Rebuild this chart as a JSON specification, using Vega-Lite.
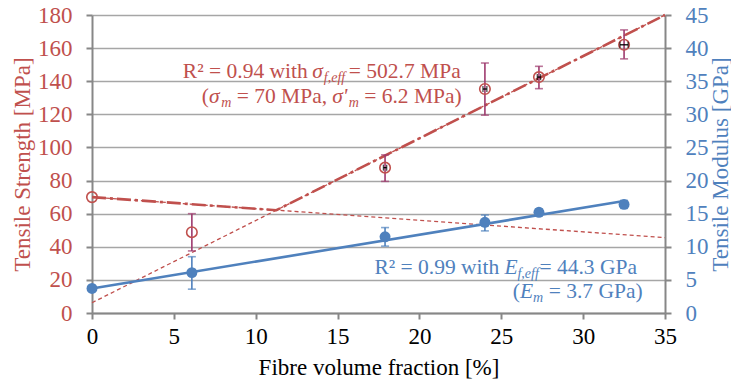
{
  "$schema": "https://vega.github.io/schema/vega-lite/v6.json",
  "width": 573,
  "height": 298,
  "autosize": {"type": "none"},
  "padding": {"left": 92, "top": 15, "right": 66, "bottom": 70},
  "background": "white",
  "config": {
    "view": {"stroke": null},
    "font": "Liberation Serif",
    "text": {"font": "Liberation Serif"},
    "axis": {
      "labelFont": "Liberation Serif",
      "labelFontSize": 23,
      "titleFont": "Liberation Serif",
      "titleFontSize": 23,
      "titleFontWeight": "normal",
      "labelOverlap": false,
      "labelFlush": false,
      "labelBound": false,
      "domainColor": "#878787",
      "domainWidth": 2,
      "tickColor": "#878787",
      "tickWidth": 2,
      "tickSize": 6,
      "gridColor": "#a6a6a6",
      "gridWidth": 1.5
    }
  },
  "datasets": {
    "strength": [
      {"V": 0, "s": 70},
      {"V": 6.1, "s": 48.8, "sLo": 37.5, "sHi": 60},
      {"V": 17.9, "s": 87.8, "sLo": 79.5, "sHi": 95.5, "xLo": 17.8, "xHi": 18.0},
      {"V": 24.0, "s": 135.3, "sLo": 119.5, "sHi": 151, "xLo": 23.88, "xHi": 24.12},
      {"V": 27.3, "s": 142.5, "sLo": 135.5, "sHi": 149, "xLo": 27.2, "xHi": 27.4},
      {"V": 32.5, "s": 162, "sLo": 153.5, "sHi": 171, "xLo": 32.25, "xHi": 32.75}
    ],
    "modulus": [
      {"V": 0, "E": 3.7},
      {"V": 6.1, "E": 6.1, "ELo": 3.6, "EHi": 8.5},
      {"V": 17.9, "E": 11.5, "ELo": 10.1, "EHi": 12.9},
      {"V": 24.0, "E": 13.7, "ELo": 12.4, "EHi": 14.8},
      {"V": 27.3, "E": 15.2, "ELo": 14.7, "EHi": 15.7},
      {"V": 32.5, "E": 16.4, "ELo": 15.8, "EHi": 17.0}
    ],
    "redLines": [
      {"line": "matrix", "V": 0, "s": 70},
      {"line": "matrix", "V": 35, "s": 45.5},
      {"line": "fibre", "V": 0, "s": 6.2},
      {"line": "fibre", "V": 35, "s": 180}
    ],
    "envelope": [
      {"V": 0, "s": 70},
      {"V": 11.26, "s": 62.1},
      {"V": 35, "s": 180}
    ],
    "modFit": [
      {"V": 0, "E": 3.7},
      {"V": 32.5, "E": 16.9}
    ],
    "annR": [
      {"id": "r1", "V": 5.55, "s": 141.9, "t1": "R² = 0.94 with", "t2": "σ", "t3": "f,eff", "t4": "= 502.7 MPa"},
      {"id": "r2", "V": 6.7, "s": 126.8, "t1": "(", "t2": "σ", "t3": "m", "t4": "= 70 MPa,", "t5": "σ'", "t6": "m", "t7": "= 6.2 MPa)"}
    ],
    "annB": [
      {"id": "b1", "V": 17.25, "E": 5.89, "t1": "R² = 0.99 with", "t2": "E", "t3": "f,eff", "t4": "= 44.3 GPa"},
      {"id": "b2", "V": 25.7, "E": 2.27, "t1": "(", "t2": "E", "t3": "m", "t4": "= 3.7 GPa)"}
    ]
  },
  "encoding": {
    "x": {
      "field": "V",
      "type": "quantitative",
      "title": "Fibre volume fraction [%]",
      "scale": {"domain": [0, 35], "nice": false},
      "axis": {
        "values": [0, 5, 10, 15, 20, 25, 30, 35],
        "labelOverlap": false,
        "grid": false,
        "labelColor": "black",
        "titleColor": "black",
        "labelFont": "Liberation Serif",
        "titleFont": "Liberation Serif",
        "labelPadding": 6,
        "titlePadding": 8
      }
    }
  },
  "layer": [
    {
      "encoding": {
        "y": {
          "field": "s",
          "type": "quantitative",
          "title": "Tensile Strength [MPa]",
          "scale": {"domain": [0, 180], "nice": false},
          "axis": {
            "orient": "left",
            "values": [0, 20, 40, 60, 80, 100, 120, 140, 160, 180],
            "labelOverlap": false,
            "labelColor": "#C0504D",
            "titleColor": "#C0504D",
            "grid": true,
            "labelPadding": 14,
            "titlePadding": 3
          }
        }
      },
      "layer": [
        {
          "data": {"name": "redLines"},
          "mark": {"type": "line", "color": "#C0504D", "strokeWidth": 1.3, "strokeDash": [4, 3]},
          "encoding": {"detail": {"field": "line"}}
        },
        {
          "data": {"name": "envelope"},
          "mark": {"type": "line", "color": "#C0504D", "strokeWidth": 2.6, "strokeDash": [14, 4, 3, 4]}
        },
        {
          "data": {"name": "strength"},
          "transform": [{"filter": "isValid(datum.sLo)"}],
          "mark": {"type": "errorbar", "ticks": true, "size": 8, "thickness": 1.6, "color": "#9E3A6E"},
          "encoding": {
            "y": {
              "field": "sLo",
              "type": "quantitative",
              "title": "Tensile Strength [MPa]",
              "scale": {"domain": [0, 180], "nice": false},
              "axis": {
                "orient": "left",
                "values": [0, 20, 40, 60, 80, 100, 120, 140, 160, 180],
                "labelOverlap": false,
                "labelColor": "#C0504D",
                "titleColor": "#C0504D",
                "grid": true,
                "labelPadding": 14,
                "titlePadding": 3
              }
            },
            "y2": {"field": "sHi"}
          }
        },
        {
          "data": {"name": "strength"},
          "mark": {"type": "point", "shape": "circle", "filled": false, "color": "#C0504D", "strokeWidth": 1.6, "size": 110, "opacity": 1}
        },
        {
          "data": {"name": "strength"},
          "transform": [{"filter": "isValid(datum.xLo)"}],
          "mark": {"type": "errorbar", "ticks": true, "size": 6, "thickness": 1.3, "color": "black"},
          "encoding": {
            "x": {
              "field": "xLo",
              "type": "quantitative",
              "title": "Fibre volume fraction [%]",
              "scale": {"domain": [0, 35], "nice": false},
              "axis": {
                "values": [0, 5, 10, 15, 20, 25, 30, 35],
                "labelOverlap": false,
                "grid": false,
                "labelColor": "black",
                "titleColor": "black",
                "labelFont": "Liberation Serif",
                "titleFont": "Liberation Serif",
                "labelPadding": 6,
                "titlePadding": 8
              }
            },
            "x2": {"field": "xHi"}
          }
        },
        {
          "data": {"name": "annR"},
          "transform": [{"filter": "datum.id == 'r1'"}],
          "mark": {"type": "text", "font": "Liberation Serif", "align": "left", "baseline": "alphabetic", "fontSize": 21.5, "color": "#C0504D", "dx": 0},
          "encoding": {"text": {"field": "t1"}}
        },
        {
          "data": {"name": "annR"},
          "transform": [{"filter": "datum.id == 'r1'"}],
          "mark": {"type": "text", "font": "Liberation Serif", "align": "left", "baseline": "alphabetic", "fontSize": 21.5, "fontStyle": "italic", "color": "#C0504D", "dx": 129.5},
          "encoding": {"text": {"field": "t2"}}
        },
        {
          "data": {"name": "annR"},
          "transform": [{"filter": "datum.id == 'r1'"}],
          "mark": {"type": "text", "font": "Liberation Serif", "align": "left", "baseline": "alphabetic", "fontSize": 14, "fontStyle": "italic", "color": "#C0504D", "dx": 141, "dy": 4},
          "encoding": {"text": {"field": "t3"}}
        },
        {
          "data": {"name": "annR"},
          "transform": [{"filter": "datum.id == 'r1'"}],
          "mark": {"type": "text", "font": "Liberation Serif", "align": "left", "baseline": "alphabetic", "fontSize": 21.5, "color": "#C0504D", "dx": 166},
          "encoding": {"text": {"field": "t4"}}
        },
        {
          "data": {"name": "annR"},
          "transform": [{"filter": "datum.id == 'r2'"}],
          "mark": {"type": "text", "font": "Liberation Serif", "align": "left", "baseline": "alphabetic", "fontSize": 21.5, "color": "#C0504D", "dx": 0},
          "encoding": {"text": {"field": "t1"}}
        },
        {
          "data": {"name": "annR"},
          "transform": [{"filter": "datum.id == 'r2'"}],
          "mark": {"type": "text", "font": "Liberation Serif", "align": "left", "baseline": "alphabetic", "fontSize": 21.5, "fontStyle": "italic", "color": "#C0504D", "dx": 7.2},
          "encoding": {"text": {"field": "t2"}}
        },
        {
          "data": {"name": "annR"},
          "transform": [{"filter": "datum.id == 'r2'"}],
          "mark": {"type": "text", "font": "Liberation Serif", "align": "left", "baseline": "alphabetic", "fontSize": 14, "fontStyle": "italic", "color": "#C0504D", "dx": 19.5, "dy": 4},
          "encoding": {"text": {"field": "t3"}}
        },
        {
          "data": {"name": "annR"},
          "transform": [{"filter": "datum.id == 'r2'"}],
          "mark": {"type": "text", "font": "Liberation Serif", "align": "left", "baseline": "alphabetic", "fontSize": 21.5, "color": "#C0504D", "dx": 35},
          "encoding": {"text": {"field": "t4"}}
        },
        {
          "data": {"name": "annR"},
          "transform": [{"filter": "datum.id == 'r2'"}],
          "mark": {"type": "text", "font": "Liberation Serif", "align": "left", "baseline": "alphabetic", "fontSize": 21.5, "fontStyle": "italic", "color": "#C0504D", "dx": 130.5},
          "encoding": {"text": {"field": "t5"}}
        },
        {
          "data": {"name": "annR"},
          "transform": [{"filter": "datum.id == 'r2'"}],
          "mark": {"type": "text", "font": "Liberation Serif", "align": "left", "baseline": "alphabetic", "fontSize": 14, "fontStyle": "italic", "color": "#C0504D", "dx": 147, "dy": 4},
          "encoding": {"text": {"field": "t6"}}
        },
        {
          "data": {"name": "annR"},
          "transform": [{"filter": "datum.id == 'r2'"}],
          "mark": {"type": "text", "font": "Liberation Serif", "align": "left", "baseline": "alphabetic", "fontSize": 21.5, "color": "#C0504D", "dx": 162.5},
          "encoding": {"text": {"field": "t7"}}
        }
      ]
    },
    {
      "encoding": {
        "y": {
          "field": "E",
          "type": "quantitative",
          "title": "Tensile Modulus [GPa]",
          "scale": {"domain": [0, 45], "nice": false},
          "axis": {
            "orient": "right",
            "values": [0, 5, 10, 15, 20, 25, 30, 35, 40, 45],
            "labelOverlap": false,
            "labelColor": "#4F81BD",
            "titleColor": "#4F81BD",
            "grid": false,
            "labelPadding": 14,
            "titlePadding": 1,
            "titleAngle": 270,
            "titleBaseline": "top"
          }
        }
      },
      "layer": [
        {
          "data": {"name": "modFit"},
          "mark": {"type": "line", "color": "#4F81BD", "strokeWidth": 2.6}
        },
        {
          "data": {"name": "modulus"},
          "transform": [{"filter": "isValid(datum.ELo)"}],
          "mark": {"type": "errorbar", "ticks": true, "size": 8, "thickness": 1.6, "color": "#4F81BD"},
          "encoding": {
            "y": {
              "field": "ELo",
              "type": "quantitative",
              "title": "Tensile Modulus [GPa]",
              "scale": {"domain": [0, 45], "nice": false},
              "axis": {
                "orient": "right",
                "values": [0, 5, 10, 15, 20, 25, 30, 35, 40, 45],
                "labelOverlap": false,
                "labelColor": "#4F81BD",
                "titleColor": "#4F81BD",
                "grid": false,
                "labelPadding": 14,
                "titlePadding": 1,
                "titleAngle": 270,
                "titleBaseline": "top"
              }
            },
            "y2": {"field": "EHi"}
          }
        },
        {
          "data": {"name": "modulus"},
          "mark": {"type": "point", "shape": "circle", "filled": true, "color": "#4F81BD", "size": 120, "opacity": 1}
        },
        {
          "data": {"name": "annB"},
          "transform": [{"filter": "datum.id == 'b1'"}],
          "mark": {"type": "text", "font": "Liberation Serif", "align": "left", "baseline": "alphabetic", "fontSize": 21.5, "color": "#4F81BD", "dx": 0},
          "encoding": {"text": {"field": "t1"}}
        },
        {
          "data": {"name": "annB"},
          "transform": [{"filter": "datum.id == 'b1'"}],
          "mark": {"type": "text", "font": "Liberation Serif", "align": "left", "baseline": "alphabetic", "fontSize": 21.5, "fontStyle": "italic", "color": "#4F81BD", "dx": 130},
          "encoding": {"text": {"field": "t2"}}
        },
        {
          "data": {"name": "annB"},
          "transform": [{"filter": "datum.id == 'b1'"}],
          "mark": {"type": "text", "font": "Liberation Serif", "align": "left", "baseline": "alphabetic", "fontSize": 14, "fontStyle": "italic", "color": "#4F81BD", "dx": 143, "dy": 4},
          "encoding": {"text": {"field": "t3"}}
        },
        {
          "data": {"name": "annB"},
          "transform": [{"filter": "datum.id == 'b1'"}],
          "mark": {"type": "text", "font": "Liberation Serif", "align": "left", "baseline": "alphabetic", "fontSize": 21.5, "color": "#4F81BD", "dx": 165},
          "encoding": {"text": {"field": "t4"}}
        },
        {
          "data": {"name": "annB"},
          "transform": [{"filter": "datum.id == 'b2'"}],
          "mark": {"type": "text", "font": "Liberation Serif", "align": "left", "baseline": "alphabetic", "fontSize": 21.5, "color": "#4F81BD", "dx": 0},
          "encoding": {"text": {"field": "t1"}}
        },
        {
          "data": {"name": "annB"},
          "transform": [{"filter": "datum.id == 'b2'"}],
          "mark": {"type": "text", "font": "Liberation Serif", "align": "left", "baseline": "alphabetic", "fontSize": 21.5, "fontStyle": "italic", "color": "#4F81BD", "dx": 7.2},
          "encoding": {"text": {"field": "t2"}}
        },
        {
          "data": {"name": "annB"},
          "transform": [{"filter": "datum.id == 'b2'"}],
          "mark": {"type": "text", "font": "Liberation Serif", "align": "left", "baseline": "alphabetic", "fontSize": 14, "fontStyle": "italic", "color": "#4F81BD", "dx": 20.3, "dy": 4},
          "encoding": {"text": {"field": "t3"}}
        },
        {
          "data": {"name": "annB"},
          "transform": [{"filter": "datum.id == 'b2'"}],
          "mark": {"type": "text", "font": "Liberation Serif", "align": "left", "baseline": "alphabetic", "fontSize": 21.5, "color": "#4F81BD", "dx": 36},
          "encoding": {"text": {"field": "t4"}}
        }
      ]
    }
  ],
  "resolve": {"scale": {"y": "independent"}}
}
